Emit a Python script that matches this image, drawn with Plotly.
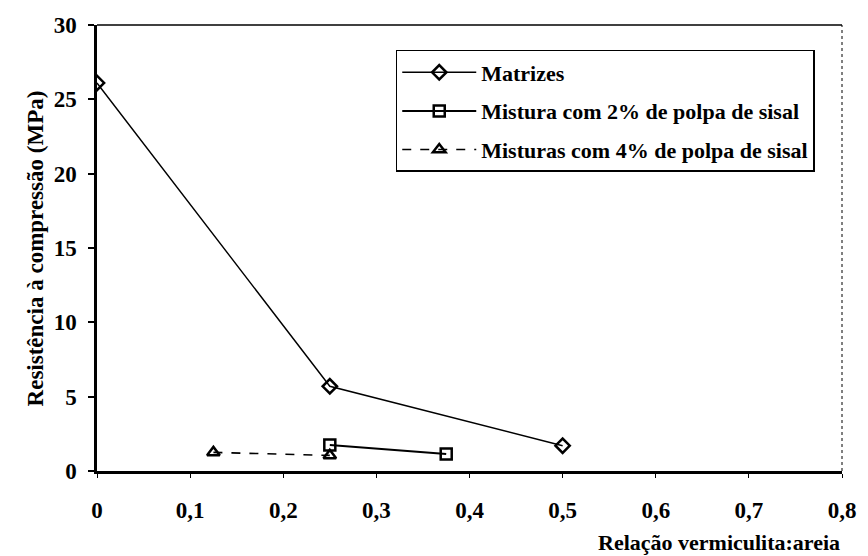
import plotly.graph_objects as go

# Data
matrizes_x = [0, 0.25, 0.5]
matrizes_y = [26.1, 5.7, 1.7]
mist2_x = [0.25, 0.375]
mist2_y = [1.75, 1.15]
mist4_x = [0.125, 0.25]
mist4_y = [1.25, 1.05]

names = ["Matrizes", "Mistura com 2% de polpa de sisal", "Misturas com 4% de polpa de sisal"]

FONT = "Liberation Serif"

fig = go.Figure()
fig.add_trace(go.Scatter(
    x=matrizes_x, y=matrizes_y, name=names[0], legendgroup="a",
    mode="lines+markers",
    line=dict(color="black", width=1.4),
    marker=dict(symbol="diamond-open", size=11, color="black", line=dict(width=2.5, color="black")),
))
fig.add_trace(go.Scatter(
    x=mist2_x, y=mist2_y, name=names[1], legendgroup="b",
    mode="lines+markers",
    line=dict(color="black", width=2),
    marker=dict(symbol="square-open", size=11, color="black", line=dict(width=2.5, color="black")),
))
fig.add_trace(go.Scatter(
    x=mist4_x, y=mist4_y, name=names[2], legendgroup="c",
    mode="lines+markers",
    line=dict(color="black", width=1.6, dash="dash"),
    marker=dict(symbol="triangle-up-open", size=11, color="black", line=dict(width=2.5, color="black")),
))

fig.update_layout(
    width=868, height=556,
    margin=dict(l=97, r=21, t=25, b=85),
    paper_bgcolor="white", plot_bgcolor="white",
    separators=",.",
    font=dict(family=FONT, color="black", size=22, weight="bold"),
    showlegend=True,
    legend=dict(
        x=0.401, y=0.944, xanchor="left", yanchor="top",
        bgcolor="white", bordercolor="black", borderwidth=1.5,
        font=dict(family=FONT, size=22, color="black", weight="bold"),
        tracegroupgap=7,
        itemwidth=74,
    ),
    xaxis=dict(
        range=[0, 0.8], dtick=0.1, tick0=0,
        showgrid=False, zeroline=False,
        showline=True, linecolor="black", linewidth=2.5,
        ticks="outside", ticklen=4, tickcolor="black", tickwidth=1,
        ticklabelstandoff=13,
        tickfont=dict(family=FONT, size=23, color="black", weight="bold"),
    ),
    yaxis=dict(
        range=[0, 30], dtick=5, tick0=0,
        showgrid=False, zeroline=False,
        showline=True, linecolor="black", linewidth=2.5,
        ticks="outside", ticklen=6, tickcolor="black", tickwidth=1.5,
        ticklabelstandoff=7,
        tickfont=dict(family=FONT, size=23, color="black", weight="bold"),
    ),
    shapes=[
        dict(type="line", xref="paper", yref="paper", x0=0, x1=1, y0=1, y1=1,
             line=dict(color="black", width=1.5)),
        dict(type="line", xref="paper", yref="paper", x0=1, x1=1, y0=0, y1=1,
             line=dict(color="black", width=1, dash="dot")),
    ],
    annotations=[
        dict(text="Relação vermiculita:areia", xref="paper", yref="paper",
             x=1.0, y=0, xanchor="right", yanchor="middle", yshift=-71,
             showarrow=False, font=dict(family=FONT, size=22, color="black", weight="bold")),
        dict(text="Resistência à compressão (MPa)", xref="paper", yref="paper",
             x=(35 - 97) / 750, y=0.5, xanchor="center", yanchor="middle",
             textangle=-90, showarrow=False,
             font=dict(family=FONT, size=23, color="black", weight="bold")),
    ],
)

fig.write_html("out.html", config={"displayModeBar": False},
               post_script="document.body.style.margin='0';")
